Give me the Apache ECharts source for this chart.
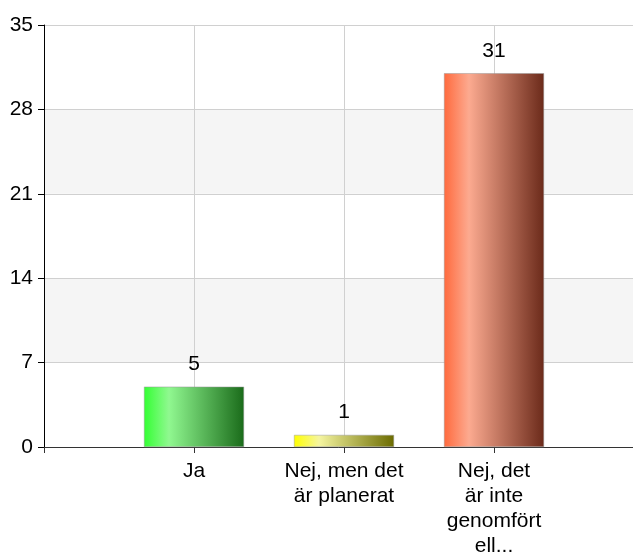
<!DOCTYPE html>
<html><head><meta charset="utf-8">
<script src="https://cdn.jsdelivr.net/npm/echarts@6/dist/echarts.min.js"></script>
<style>html,body{margin:0;padding:0;background:#fff;overflow:hidden}#c{width:633px;height:554px}</style>
</head><body><div id="c"></div>
<script>
const categories = ['', 'Ja', 'Nej, men det\när planerat', 'Nej, det\när inte\ngenomfört\nell...', ''];
const values = [null, 5, 1, 31, null];
const yTicks = [0, 7, 14, 21, 28, 35];
const barColors = [
  null,
  ['#33ff33', '#90f890', '#1a6b1a'],
  ['#ffff00', '#f5f5a0', '#6b6b00'],
  ['#ff6a3d', '#fcaa90', '#6b2a1a'],
  null
];
function grad(c) {
  return new echarts.graphic.LinearGradient(0, 0, 1, 0, [
    {offset: 0, color: c[0]}, {offset: 0.25, color: c[1]}, {offset: 1, color: c[2]}
  ]);
}
const chart = echarts.init(document.getElementById('c'), null, {renderer: 'canvas'});
chart.setOption({
  animation: false,
  textStyle: {fontFamily: 'Liberation Sans, Arial, sans-serif'},
  grid: {left: 44, width: 600, top: 25, bottom: 107, containLabel: false, outerBoundsMode: 'none'},
  xAxis: {
    type: 'category', data: categories, boundaryGap: false,
    axisLine: {lineStyle: {color: '#333', width: 1}},
    axisTick: {show: true, length: 6, lineStyle: {color: '#333'}, interval: 0},
    axisLabel: {interval: 0, color: '#000', fontSize: 21, lineHeight: 25, margin: 12},
    splitLine: {show: true, interval: 0, lineStyle: {color: '#d0d0d0'}}
  },
  yAxis: {
    type: 'value', min: yTicks[0], max: yTicks[yTicks.length - 1], interval: 7,
    axisLine: {show: true, lineStyle: {color: '#000'}},
    axisTick: {show: true, length: 6, lineStyle: {color: '#000'}},
    axisLabel: {color: '#000', fontSize: 21, margin: 11},
    splitLine: {show: true, lineStyle: {color: '#d0d0d0'}},
    splitArea: {show: true, areaStyle: {color: ['#ffffff', '#f5f5f5']}}
  },
  series: [{
    type: 'bar', barWidth: 100,
    data: values.map((v, i) => v === null ? null : {
      value: v,
      itemStyle: {color: grad(barColors[i]), borderColor: '#999', borderWidth: 0.5}
    }),
    label: {show: true, position: 'top', distance: 12, color: '#000', fontSize: 21}
  }]
});
</script></body></html>
